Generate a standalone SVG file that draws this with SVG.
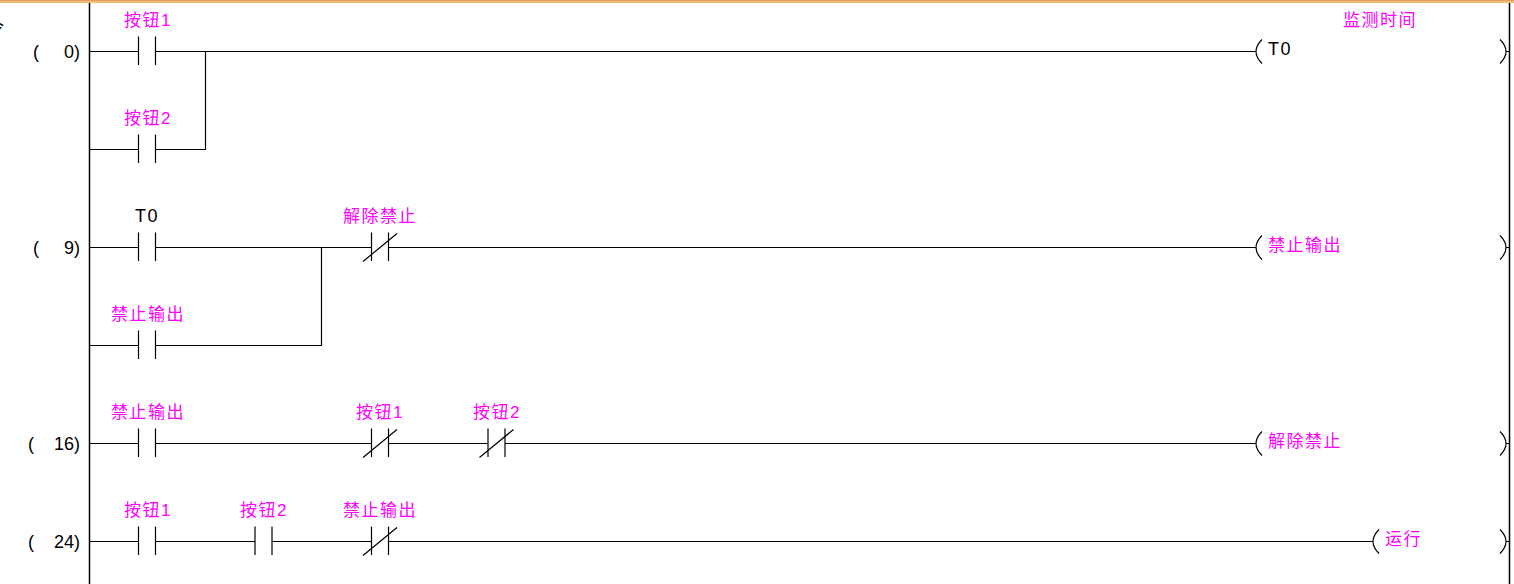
<svg xmlns="http://www.w3.org/2000/svg" xmlns:xlink="http://www.w3.org/1999/xlink" width="1514" height="584" viewBox="0 0 1514 584">
<style>
.w{stroke:#000;stroke-width:1.2;fill:none}
.rail{stroke:#000;stroke-width:1.5;fill:none}
.lbl{font-family:"Liberation Sans","Noto Sans CJK SC",sans-serif;font-size:17px;fill:#FF00FF;letter-spacing:1.5px}
.blk{font-family:"Liberation Sans","Noto Sans CJK SC",sans-serif;font-size:18px;fill:#000;letter-spacing:1.5px}
.num{font-family:"Liberation Sans",sans-serif;font-size:18px;fill:#000}
</style>
<defs>
<g id="no"><path class="w" d="M-8.5,-15V13.5M8.5,-15V13.5"/></g>
<g id="nc"><path class="w" d="M-8.5,-15V13.5M8.5,-15V13.5M-17,14L17,-14"/></g>
<g id="coilL"><path class="w" d="M6,-12Q-6,0 6,12"/></g>
<g id="coilR"><path class="w" d="M-6,-12Q6,0 -6,12M0,0H3.5"/></g>
</defs>
<rect x="0" y="0" width="1514" height="584" fill="#fff"/>
<rect x="0" y="0" width="1514" height="3" fill="#F4B870"/>
<rect x="0" y="0" width="1514" height="1" fill="#D9A060"/>
<text x="-12" y="33" font-family="'Noto Sans CJK SC',sans-serif" font-size="16" fill="#000">令</text>
<g id="rails">
<path class="rail" d="M89.5,3V584"/>
<path class="rail" d="M1509.5,3V584"/>
</g>
<g id="rung-numbers">
<text class="num" x="33" y="58">(</text><text class="num" x="80" y="58" text-anchor="end">0)</text>
<text class="num" x="33" y="254">(</text><text class="num" x="80" y="254" text-anchor="end">9)</text>
<text class="num" x="28" y="450">(</text><text class="num" x="80" y="450" text-anchor="end">16)</text>
<text class="num" x="28" y="548">(</text><text class="num" x="80" y="548" text-anchor="end">24)</text>
</g>
<g id="connectors">
<path class="w" d="M90,51.5H138.5M155.5,51.5H1256M90,149.5H138.5M155.5,149.5H205.5V51.5"/>
<path class="w" d="M90,247.5H138.5M155.5,247.5H371.5M388.5,247.5H1256M90,345.5H138.5M155.5,345.5H321.5V247.5"/>
<path class="w" d="M90,443.5H138.5M155.5,443.5H371.5M388.5,443.5H488M505,443.5H1256"/>
<path class="w" d="M90,541.5H138.5M155.5,541.5H255M272,541.5H371.5M388.5,541.5H1373"/>
</g>
<g id="r0-c1"><use xlink:href="#no" x="147" y="51.5"/><text class="lbl" x="124" y="26">按钮1</text></g>
<g id="r0-c2"><use xlink:href="#no" x="147" y="149.5"/><text class="lbl" x="124" y="124">按钮2</text></g>
<g id="r0-coil"><use xlink:href="#coilL" x="1256" y="51.5"/><use xlink:href="#coilR" x="1506" y="51.5"/><text class="blk" x="1268" y="55">T0</text><text class="lbl" x="1343" y="26">监测时间</text></g>
<g id="r9-c1"><use xlink:href="#no" x="147" y="247.5"/><text class="blk" x="135" y="222">T0</text></g>
<g id="r9-c2"><use xlink:href="#no" x="147" y="345.5"/><text class="lbl" x="111" y="320">禁止输出</text></g>
<g id="r9-c3"><use xlink:href="#nc" x="380" y="247.5"/><text class="lbl" x="343" y="222">解除禁止</text></g>
<g id="r9-coil"><use xlink:href="#coilL" x="1256" y="247.5"/><use xlink:href="#coilR" x="1506" y="247.5"/><text class="lbl" x="1268" y="251">禁止输出</text></g>
<g id="r16-c1"><use xlink:href="#no" x="147" y="443.5"/><text class="lbl" x="111" y="418">禁止输出</text></g>
<g id="r16-c2"><use xlink:href="#nc" x="380" y="443.5"/><text class="lbl" x="356" y="418">按钮1</text></g>
<g id="r16-c3"><use xlink:href="#nc" x="496.5" y="443.5"/><text class="lbl" x="473" y="418">按钮2</text></g>
<g id="r16-coil"><use xlink:href="#coilL" x="1256" y="443.5"/><use xlink:href="#coilR" x="1506" y="443.5"/><text class="lbl" x="1268" y="447">解除禁止</text></g>
<g id="r24-c1"><use xlink:href="#no" x="147" y="541.5"/><text class="lbl" x="124" y="516">按钮1</text></g>
<g id="r24-c2"><use xlink:href="#no" x="263.5" y="541.5"/><text class="lbl" x="240" y="516">按钮2</text></g>
<g id="r24-c3"><use xlink:href="#nc" x="380" y="541.5"/><text class="lbl" x="343" y="516">禁止输出</text></g>
<g id="r24-coil"><use xlink:href="#coilL" x="1373" y="541.5"/><use xlink:href="#coilR" x="1506" y="541.5"/><text class="lbl" x="1385" y="545">运行</text></g>
</svg>
